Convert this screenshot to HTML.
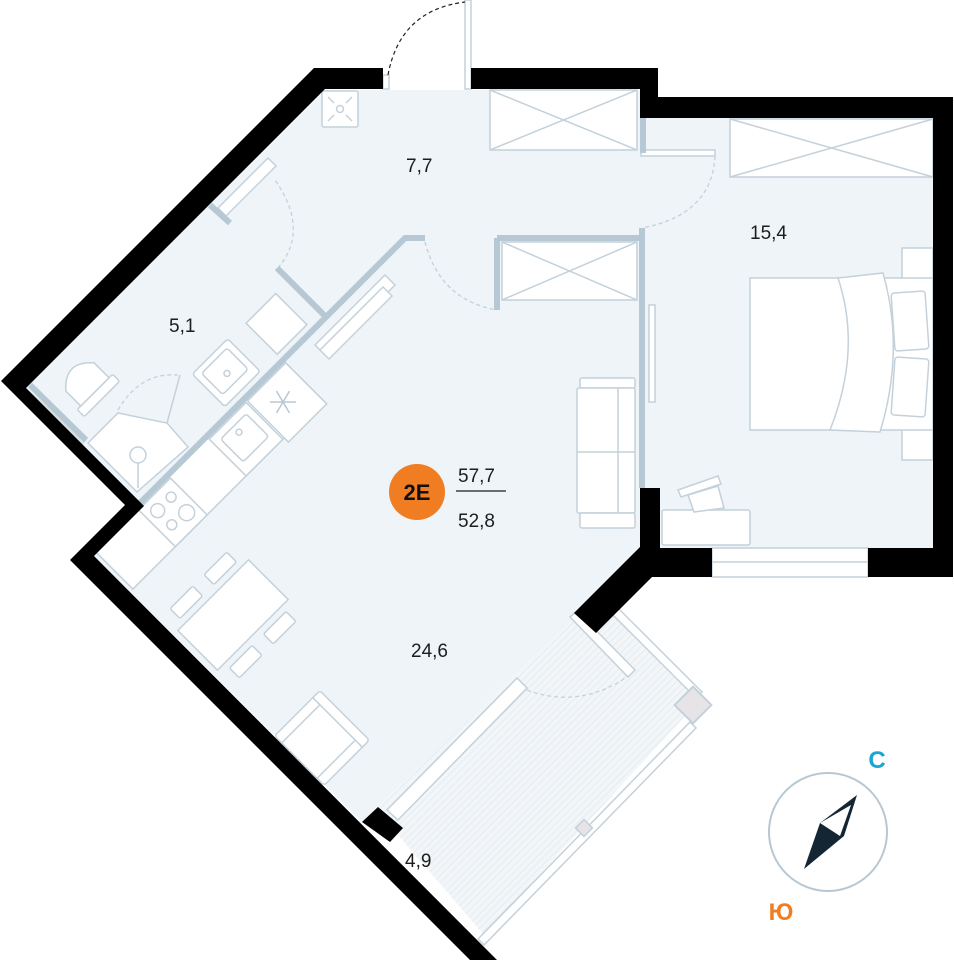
<!DOCTYPE html>
<html><head><meta charset="utf-8"><style>
html,body{margin:0;padding:0;background:#fff;}
svg{display:block;}
text{font-family:"Liberation Sans",sans-serif;}
</style></head><body>
<svg width="954" height="960" viewBox="0 0 954 960" xmlns="http://www.w3.org/2000/svg">
<defs>
<pattern id="hatch" width="5" height="5" patternUnits="userSpaceOnUse" patternTransform="rotate(45)">
<rect width="5" height="5" fill="#f3f6f8"/><line x1="0" y1="0" x2="0" y2="5" stroke="#e2e9ee" stroke-width="1.5"/>
</pattern>
</defs>
<polygon points="325,90 640,90 640,118 933,118 933,548 640,548 578,615 362,822 94,556 144,506 26,388" fill="#eef4f8"/>
<polygon points="578,615 612,612 700,700 484,935 398,835 362,822" fill="url(#hatch)"/>
<polygon points="14,384 26,388 87,440 80,448" fill="#d9dfe3"/>

<g stroke="#c4d1da" stroke-width="1.5" fill="#fff">
<rect x="490" y="90" width="147" height="60"/>
<line x1="490" y1="90" x2="637" y2="150"/><line x1="637" y1="90" x2="490" y2="150"/>
<rect x="502" y="242" width="135" height="58"/>
<line x1="502" y1="242" x2="637" y2="300"/><line x1="637" y1="242" x2="502" y2="300"/>
<rect x="730" y="119" width="203" height="58"/>
<line x1="730" y1="119" x2="933" y2="177"/><line x1="933" y1="119" x2="730" y2="177"/>
<rect x="322" y="91" width="36" height="36" rx="2"/>
<circle cx="340" cy="109" r="3.5"/>
<line x1="328" y1="97" x2="334" y2="103"/><line x1="352" y1="97" x2="346" y2="103"/><line x1="328" y1="121" x2="334" y2="115"/><line x1="352" y1="121" x2="346" y2="115"/>
<polygon points="248,155 280,123 285,128 253,160"/>
<polygon points="218,208 268,158 276,166 226,216"/>
<rect x="902" y="248" width="31" height="212"/>
<rect x="750" y="278" width="183" height="152"/>
<path d="M838,278 Q862,350 830,430 L880,432 Q905,350 883,273 Z"/>
<rect x="893" y="292" width="34" height="58" rx="3" transform="rotate(-4 910 321)"/>
<rect x="893" y="358" width="34" height="58" rx="3" transform="rotate(4 910 387)"/>
<rect x="649" y="305" width="6" height="97"/>
<rect x="580" y="378" width="55" height="10" rx="2"/>
<rect x="577" y="388" width="58" height="125" rx="2"/>
<line x1="618" y1="388" x2="618" y2="513"/><line x1="577" y1="452" x2="635" y2="452"/>
<rect x="580" y="513" width="55" height="15" rx="2"/>
<rect x="662" y="510" width="88" height="35" rx="2"/>
<polygon points="688,495 718,486 724,508 694,512"/>
<polygon points="678,490 718,476 721,484 681,497"/>
<polygon points="315,345 385,275 395,285 325,355"/>
<polygon points="320,350 383,287 392,296 329,359"/>
<g transform="translate(140,500) rotate(-45)">
<rect x="-68" y="4" width="268" height="54"/>
<rect x="-8" y="6" width="45" height="52"/>
<circle cx="5" cy="20" r="7"/><circle cx="24" cy="20" r="5"/><circle cx="5" cy="40" r="5"/><circle cx="24" cy="42" r="8"/>
<rect x="92" y="6" width="52" height="52"/>
<rect x="100" y="14" width="36" height="32" rx="3"/><circle cx="118" cy="22" r="3"/>
<rect x="146" y="6" width="54" height="58"/>
<rect x="126" y="-52" width="50" height="46" rx="3"/>
<rect x="133" y="-46" width="36" height="30" rx="3"/><circle cx="151" cy="-28" r="3"/>
<rect x="200" y="-50" width="42" height="44"/>
</g>
<polygon points="88,443 118,413 167,423 188,447 137,492"/>
<circle cx="138" cy="455" r="8"/><line x1="138" y1="463" x2="138" y2="488"/>
<line x1="167" y1="423" x2="180" y2="375"/>
<g transform="rotate(-45 85 382)">
<rect x="60" y="396" width="50" height="10" rx="2"/>
<path d="M65,396 L65,375 Q85,352 105,375 L105,396 Z"/>
</g>
<g transform="rotate(-45 233 615)">
<rect x="183" y="587" width="100" height="56"/>
<rect x="193" y="566" width="32" height="14" rx="2"/><rect x="241" y="566" width="32" height="14" rx="2"/>
<rect x="193" y="650" width="32" height="14" rx="2"/><rect x="241" y="650" width="32" height="14" rx="2"/>
</g>
<g transform="rotate(45 322 738)">
<rect x="287" y="706" width="70" height="64" rx="3"/>
<line x1="287" y1="716" x2="357" y2="716"/><line x1="297" y1="716" x2="297" y2="770"/><line x1="347" y1="716" x2="347" y2="770"/>
</g>
<polygon points="387,810 517,678 527,688 398,820"/>
<polygon points="570,617 577,611 635,670 628,677"/>
<polygon points="610,612 616,606 702,692 696,698"/>
<polygon points="690,722 696,728 484,945 478,939"/>
<rect x="712" y="548" width="156" height="29"/>
<line x1="712" y1="562" x2="868" y2="562"/>
<rect x="641" y="150" width="74" height="6"/>
<rect x="465" y="0" width="6" height="89"/>
<rect x="383" y="75" width="6" height="14"/>
</g>
<rect x="680" y="692" width="26" height="26" fill="#e6e4e6" stroke="#c4d1da" stroke-width="2" transform="rotate(45 693 705)"/>
<rect x="578" y="822" width="12" height="12" fill="#e6e4e6" stroke="#c4d1da" stroke-width="1.5" transform="rotate(45 584 828)"/>
<g stroke="#b8c8d3" stroke-width="1.5" transform="translate(283,402)">
<line x1="-13" y1="0" x2="13" y2="0"/><line x1="-6.5" y1="-11" x2="6.5" y2="11"/><line x1="6.5" y1="-11" x2="-6.5" y2="11"/>
</g>
<g fill="none" stroke="#c4d1da" stroke-width="1.3" stroke-dasharray="4,3">
<path d="M715,156 Q712,215 642,228"/>
<path d="M425,242 Q440,300 497,310"/>
<path d="M278,268 Q310,230 275,180"/>
<path d="M118,410 Q140,372 178,375"/>
<path d="M527,690 Q580,710 630,675"/>
</g>
<path d="M388,75 Q400,10 465,2" fill="none" stroke="#222" stroke-width="1.2" stroke-dasharray="4,3"/>
<g stroke="#b5c8d4" stroke-width="6" fill="none" stroke-linecap="butt">
<polyline points="425,238 405,238 138,505"/>
<line x1="277" y1="268" x2="325" y2="316"/>
<line x1="210" y1="205" x2="230" y2="223"/>
<line x1="30" y1="385" x2="86" y2="440"/>
<line x1="497" y1="238" x2="640" y2="238"/>
<line x1="497" y1="238" x2="497" y2="310"/>
<line x1="642" y1="228" x2="642" y2="488"/>
<line x1="643" y1="118" x2="643" y2="153"/>
</g>
<g fill="#000">
<polygon points="383,68 314,68 1,381 125,505 70,560 470,960 497,960 94,556 144,506 26,388 325,89 383,89"/>
<polygon points="471,68 658,68 658,97 953,97 953,577 868,577 868,548 933,548 933,118 640,118 640,89 471,89"/>
<polygon points="640,488 660,488 660,548 712,548 712,577 652,577 596,633 574,613 640,547"/>
<polygon points="362,822 378,807 403,828 390,842"/>
</g>
<g font-size="19" fill="#1d1d1d">
<text x="406" y="172">7,7</text>
<text x="750" y="239">15,4</text>
<text x="169" y="332">5,1</text>
<text x="411" y="657">24,6</text>
<text x="405" y="867">4,9</text>
<text x="458" y="482">57,7</text>
<text x="458" y="527">52,8</text>
</g>
<line x1="456" y1="491" x2="506" y2="491" stroke="#1d1d1d" stroke-width="1.3"/>
<circle cx="417" cy="492" r="28" fill="#f07d22"/>
<text x="417" y="500" font-size="22" font-weight="bold" fill="#111" text-anchor="middle">2E</text>
<circle cx="828" cy="832" r="59" fill="none" stroke="#b8c8d3" stroke-width="2"/>
<polygon points="857,795 844,836 804,869 820,823" fill="#142633"/>
<polygon points="851,805 820,823 840,836" fill="#fff"/>
<text x="877" y="768" font-size="24" font-weight="bold" fill="#1aa6d4" text-anchor="middle">С</text>
<text x="781" y="920" font-size="24" font-weight="bold" fill="#f07d22" text-anchor="middle">Ю</text>
</svg>
</body></html>
